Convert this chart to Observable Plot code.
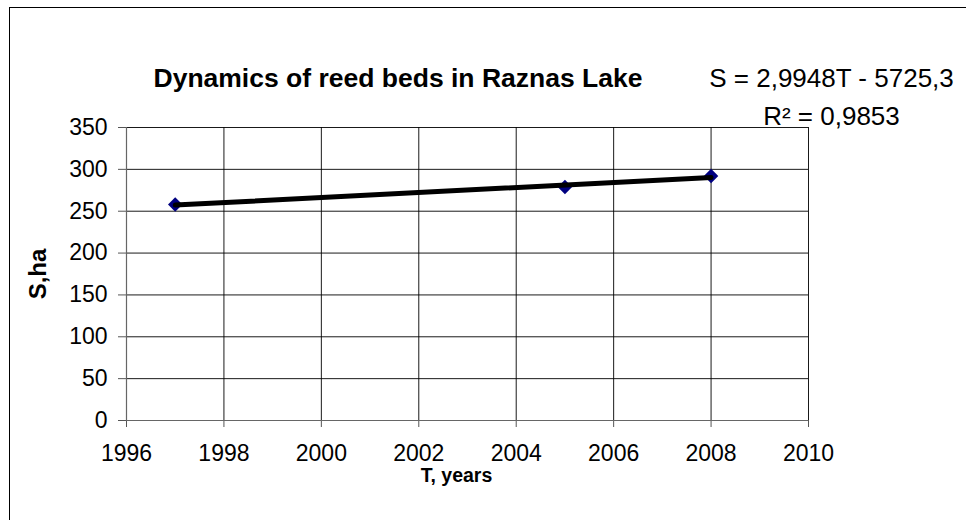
<!DOCTYPE html>
<html>
<head>
<meta charset="utf-8">
<script src="https://cdn.jsdelivr.net/npm/d3@7"></script>
<script src="https://cdn.jsdelivr.net/npm/@observablehq/plot@0.6"></script>
<style>
  html, body { margin: 0; padding: 0; background: #fff; }
  #wrap { position: relative; width: 966px; height: 520px; overflow: hidden; }
  #border { position: absolute; left: 9px; top: 7px; width: 1000px; height: 600px; border: 1px solid #000; box-sizing: border-box; }
  #chart { position: absolute; left: 0; top: 0; }
</style>
</head>
<body>
<div id="wrap"><div id="border"></div><div id="chart"></div></div>
<script>
const years = [1997, 2005, 2008];
const area = [258, 279, 292];
const xTicks = [1996, 1998, 2000, 2002, 2004, 2006, 2008, 2010];
const yTicks = [0, 50, 100, 150, 200, 250, 300, 350];
const title = "Dynamics of reed beds in Raznas Lake";
const equation = "S = 2,9948T - 5725,3";
const rSquared = "R\u00B2 = 0,9853";
const xLabel = "T, years";
const yLabel = "S,ha";

const data = years.map((T, i) => ({T, S: area[i]}));
const font = "Liberation Sans, Arial, sans-serif";

const chart = Plot.plot({
  width: 966,
  height: 520,
  marginLeft: 126,
  marginRight: 158,
  marginTop: 127,
  marginBottom: 100,
  style: {fontFamily: font, fontSize: "23px", color: "#000", background: "transparent"},
  x: {domain: [1996, 2010]},
  y: {domain: [0, 350]},
  marks: [
    Plot.gridX(xTicks, {stroke: "#000", strokeOpacity: 0.9, strokeWidth: 1}),
    Plot.gridY(yTicks, {stroke: "#000", strokeOpacity: 0.9, strokeWidth: 1}),
    Plot.axisX(xTicks, {tickFormat: "d", tickSize: 7, tickPadding: 17, fontSize: 23, stroke: "#555", label: null}),
    Plot.axisY(yTicks, {tickSize: 8, tickPadding: 11, fontSize: 23, stroke: "#555", label: null}),
    Plot.ruleY([0], {stroke: "#666", strokeWidth: 1.2}),
    Plot.ruleX([1996], {stroke: "#666", strokeWidth: 1.2}),
    Plot.dot(data, {x: "T", y: "S", symbol: "diamond2", r: 6.5, fill: "#000080", stroke: "none"}),
    Plot.linearRegressionY(data, {x: "T", y: "S", stroke: "#000", strokeWidth: 5, ci: 0}),
    Plot.text([title], {frameAnchor: "top-left", textAnchor: "start", dx: 27, dy: -59.5, fontSize: 26.5, fontWeight: "bold", fill: "#000"}),
    Plot.text([equation], {frameAnchor: "top-right", textAnchor: "middle", dx: 23, dy: -59.3, fontSize: 26, fill: "#000"}),
    Plot.text([rSquared], {frameAnchor: "top-right", textAnchor: "middle", dx: 23, dy: -21.3, fontSize: 26, fill: "#000"}),
    Plot.text([xLabel], {frameAnchor: "bottom", textAnchor: "middle", dx: -11, dy: 61, fontSize: 19.5, fontWeight: "bold", fill: "#000"}),
    Plot.text([yLabel], {frameAnchor: "left", textAnchor: "middle", rotate: -90, dx: -88, dy: 0, fontSize: 24, fontWeight: "bold", fill: "#000"})
  ]
});
document.getElementById("chart").appendChild(chart);
</script>
</body>
</html>
